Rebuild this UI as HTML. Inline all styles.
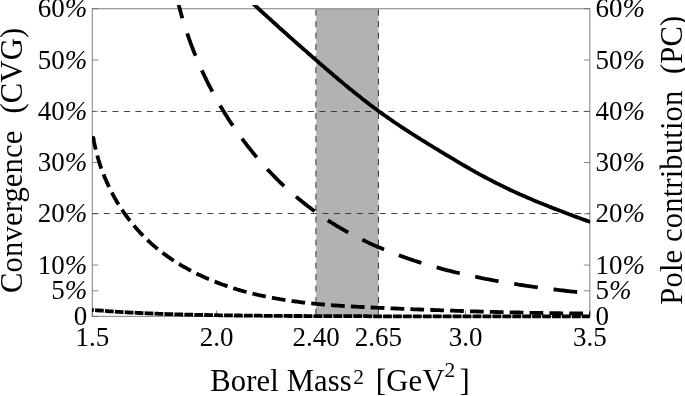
<!DOCTYPE html><html><head><meta charset="utf-8"><title>Borel plot</title><style>html,body{margin:0;padding:0;background:#fff}svg{display:block}text{font-family:"Liberation Serif",serif;fill:#000}</style></head><body>
<svg width="685" height="396" viewBox="0 0 685 396">
<rect width="685" height="396" fill="#fff"/>
<defs><clipPath id="c"><rect x="92.0" y="5" width="498.3" height="314.4"/></clipPath></defs>
<rect x="316.2" y="8.7" width="62.2" height="307.7" fill="#b2b2b2"/>
<rect x="92.3" y="8.7" width="497.5" height="307.7" fill="none" stroke="#949494" stroke-width="1.2"/>
<line x1="315.9" y1="8.7" x2="315.9" y2="316.4" stroke="#303030" stroke-width="1" stroke-dasharray="6 5.5" stroke-dashoffset="10.6"/>
<line x1="378.4" y1="8.7" x2="378.4" y2="316.4" stroke="#303030" stroke-width="1" stroke-dasharray="6 5.5" stroke-dashoffset="10.6"/>
<line x1="92.3" y1="111.5" x2="589.9" y2="111.5" stroke="#303030" stroke-width="0.9" stroke-dasharray="6 5.5" stroke-dashoffset="2.9"/>
<line x1="92.3" y1="213.5" x2="589.9" y2="213.5" stroke="#303030" stroke-width="0.9" stroke-dasharray="6 5.5" stroke-dashoffset="0"/>
<line x1="92.3" y1="316.4" x2="98.3" y2="316.4" stroke="#686868" stroke-width="0.8"/>
<line x1="583.9" y1="316.4" x2="589.9" y2="316.4" stroke="#686868" stroke-width="0.8"/>
<line x1="92.3" y1="290.8" x2="98.3" y2="290.8" stroke="#686868" stroke-width="0.8"/>
<line x1="583.9" y1="290.8" x2="589.9" y2="290.8" stroke="#686868" stroke-width="0.8"/>
<line x1="92.3" y1="265.1" x2="98.3" y2="265.1" stroke="#686868" stroke-width="0.8"/>
<line x1="583.9" y1="265.1" x2="589.9" y2="265.1" stroke="#686868" stroke-width="0.8"/>
<line x1="92.3" y1="213.8" x2="98.3" y2="213.8" stroke="#686868" stroke-width="0.8"/>
<line x1="583.9" y1="213.8" x2="589.9" y2="213.8" stroke="#686868" stroke-width="0.8"/>
<line x1="92.3" y1="162.5" x2="98.3" y2="162.5" stroke="#686868" stroke-width="0.8"/>
<line x1="583.9" y1="162.5" x2="589.9" y2="162.5" stroke="#686868" stroke-width="0.8"/>
<line x1="92.3" y1="111.3" x2="98.3" y2="111.3" stroke="#686868" stroke-width="0.8"/>
<line x1="583.9" y1="111.3" x2="589.9" y2="111.3" stroke="#686868" stroke-width="0.8"/>
<line x1="92.3" y1="60.0" x2="98.3" y2="60.0" stroke="#686868" stroke-width="0.8"/>
<line x1="583.9" y1="60.0" x2="589.9" y2="60.0" stroke="#686868" stroke-width="0.8"/>
<line x1="92.3" y1="8.7" x2="98.3" y2="8.7" stroke="#686868" stroke-width="0.8"/>
<line x1="583.9" y1="8.7" x2="589.9" y2="8.7" stroke="#686868" stroke-width="0.8"/>
<line x1="92.3" y1="316.4" x2="92.3" y2="310.4" stroke="#686868" stroke-width="0.8"/>
<line x1="216.7" y1="316.4" x2="216.7" y2="310.4" stroke="#686868" stroke-width="0.8"/>
<line x1="316.2" y1="316.4" x2="316.2" y2="310.4" stroke="#686868" stroke-width="0.8"/>
<line x1="378.4" y1="316.4" x2="378.4" y2="310.4" stroke="#686868" stroke-width="0.8"/>
<line x1="465.5" y1="316.4" x2="465.5" y2="310.4" stroke="#686868" stroke-width="0.8"/>
<line x1="589.9" y1="316.4" x2="589.9" y2="310.4" stroke="#686868" stroke-width="0.8"/>
<g clip-path="url(#c)" fill="none" stroke="#000" stroke-width="3.8">
<path d="M250.8,1.5 L252.3,2.9 L253.8,4.3 L255.3,5.7 L256.8,7.1 L258.3,8.5 L259.8,9.9 L261.3,11.3 L262.8,12.6 L264.3,14.0 L265.9,15.4 L267.4,16.8 L268.9,18.2 L270.4,19.5 L271.9,20.9 L273.4,22.3 L275.0,23.7 L276.5,25.0 L278.0,26.4 L279.5,27.8 L281.1,29.2 L282.6,30.5 L284.1,31.9 L285.7,33.3 L287.2,34.6 L288.7,36.0 L290.2,37.4 L291.8,38.7 L293.3,40.1 L294.8,41.4 L296.4,42.8 L297.9,44.2 L299.5,45.5 L301.0,46.9 L302.5,48.2 L304.1,49.6 L305.6,50.9 L307.2,52.3 L308.7,53.7 L310.3,55.0 L311.8,56.4 L313.3,57.7 L314.9,59.1 L316.4,60.4 L318.0,61.8 L319.5,63.1 L321.1,64.5 L322.6,65.8 L324.2,67.1 L325.7,68.5 L327.3,69.8 L328.9,71.2 L330.4,72.5 L332.0,73.8 L333.5,75.2 L335.1,76.5 L336.7,77.8 L338.2,79.2 L339.8,80.5 L341.4,81.8 L343.0,83.1 L344.5,84.4 L346.1,85.7 L347.7,87.0 L349.3,88.4 L350.9,89.6 L352.5,90.9 L354.1,92.2 L355.7,93.5 L357.3,94.8 L358.9,96.1 L360.5,97.3 L362.1,98.6 L363.7,99.9 L365.3,101.1 L366.9,102.4 L368.6,103.6 L370.2,104.9 L371.8,106.1 L373.5,107.3 L375.1,108.6 L376.8,109.8 L378.4,111.0 L380.1,112.2 L381.7,113.4 L383.4,114.6 L385.1,115.8 L386.8,116.9 L388.4,118.1 L390.1,119.3 L391.8,120.4 L393.5,121.6 L395.2,122.7 L396.9,123.9 L398.6,125.0 L400.3,126.2 L402.0,127.3 L403.7,128.4 L405.4,129.6 L407.2,130.7 L408.9,131.8 L410.6,132.9 L412.3,134.0 L414.1,135.1 L415.8,136.2 L417.5,137.3 L419.3,138.4 L421.0,139.5 L422.8,140.6 L424.5,141.6 L426.2,142.7 L428.0,143.8 L429.7,144.9 L431.5,145.9 L433.2,147.0 L435.0,148.1 L436.8,149.1 L438.5,150.2 L440.3,151.3 L442.0,152.3 L443.8,153.4 L445.5,154.5 L447.3,155.5 L449.1,156.6 L450.8,157.6 L452.6,158.7 L454.3,159.7 L456.1,160.8 L457.9,161.8 L459.6,162.9 L461.4,163.9 L463.2,165.0 L465.0,166.0 L466.7,167.0 L468.5,168.0 L470.3,169.1 L472.1,170.1 L473.9,171.1 L475.6,172.1 L477.4,173.1 L479.2,174.1 L481.0,175.1 L482.8,176.0 L484.6,177.0 L486.4,178.0 L488.2,178.9 L490.1,179.9 L491.9,180.8 L493.7,181.8 L495.5,182.7 L497.4,183.6 L499.2,184.5 L501.0,185.4 L502.9,186.3 L504.7,187.2 L506.6,188.1 L508.4,189.0 L510.3,189.9 L512.1,190.7 L514.0,191.6 L515.9,192.5 L517.7,193.3 L519.6,194.2 L521.5,195.0 L523.3,195.8 L525.2,196.6 L527.1,197.5 L529.0,198.3 L530.9,199.1 L532.8,199.9 L534.6,200.7 L536.5,201.5 L538.4,202.3 L540.3,203.0 L542.2,203.8 L544.1,204.6 L546.0,205.3 L548.0,206.1 L549.9,206.9 L551.8,207.6 L553.7,208.4 L555.6,209.1 L557.5,209.8 L559.4,210.6 L561.4,211.3 L563.3,212.0 L565.2,212.8 L567.1,213.5 L569.0,214.2 L571.0,214.9 L572.9,215.6 L574.8,216.4 L576.7,217.1 L578.7,217.8 L580.6,218.5 L582.5,219.2 L584.4,219.9 L586.4,220.6 L588.3,221.3 L590.2,222.0"/>
<path d="M177.8,1.1 L178.2,2.9 L178.7,4.6 L179.1,6.4 L179.6,8.2 L180.1,9.9 L180.5,11.7 L181.0,13.5 L181.5,15.2 L182.0,17.0 L182.5,18.8 L183.1,20.5 L183.6,22.3 L184.1,24.0 L184.7,25.8 L185.2,27.5 L185.8,29.3 L186.4,31.0 L187.0,32.7 L187.6,34.5 L188.2,36.2 L188.8,38.0 L189.4,39.7 L190.0,41.4 L190.6,43.1 L191.3,44.9 L191.9,46.6 L192.6,48.3 L193.2,50.0 L193.9,51.7 L194.6,53.4 L195.3,55.1 L196.0,56.8 L196.7,58.5 L197.4,60.2 L198.1,61.9 L198.8,63.6 L199.6,65.3 L200.3,67.0 L201.1,68.7 L201.8,70.3 L202.6,72.0 L203.4,73.7 L204.2,75.3 L205.0,77.0 L205.8,78.7 L206.6,80.3 L207.4,82.0 L208.2,83.6 L209.0,85.3 L209.9,86.9 L210.7,88.5 L211.6,90.2 L212.4,91.8 L213.3,93.4 L214.2,95.0 L215.1,96.6 L216.0,98.2 L216.9,99.8 L217.8,101.4 L218.7,103.0 L219.6,104.6 L220.5,106.2 L221.5,107.8 L222.4,109.4 L223.4,110.9 L224.3,112.5 L225.3,114.1 L226.3,115.6 L227.3,117.2 L228.2,118.7 L229.2,120.3 L230.2,121.8 L231.3,123.3 L232.3,124.9 L233.3,126.4 L234.3,127.9 L235.4,129.4 L236.4,130.9 L237.5,132.4 L238.5,133.9 L239.6,135.4 L240.7,136.9 L241.8,138.3 L242.9,139.8 L244.0,141.3 L245.1,142.7 L246.2,144.2 L247.3,145.6 L248.4,147.1 L249.6,148.5 L250.7,149.9 L251.9,151.4 L253.0,152.8 L254.2,154.2 L255.3,155.6 L256.5,157.0 L257.7,158.4 L258.9,159.8 L260.1,161.1 L261.3,162.5 L262.5,163.9 L263.7,165.2 L264.9,166.6 L266.2,167.9 L267.4,169.3 L268.6,170.6 L269.9,171.9 L271.2,173.2 L272.4,174.5 L273.7,175.8 L275.0,177.1 L276.2,178.4 L277.5,179.7 L278.8,181.0 L280.1,182.3 L281.4,183.5 L282.8,184.8 L284.1,186.0 L285.4,187.2 L286.8,188.5 L288.1,189.7 L289.4,190.9 L290.8,192.1 L292.2,193.3 L293.5,194.5 L294.9,195.7 L296.3,196.9 L297.7,198.0 L299.1,199.2 L300.5,200.3 L301.9,201.5 L303.3,202.6 L304.7,203.7 L306.1,204.8 L307.6,206.0 L309.0,207.1 L310.4,208.1 L311.9,209.2 L313.3,210.3 L314.8,211.4 L316.3,212.4 L317.7,213.5 L319.2,214.5 L320.7,215.5 L322.2,216.6 L323.7,217.6 L325.2,218.6 L326.7,219.6 L328.2,220.6 L329.7,221.5 L331.3,222.5 L332.8,223.5 L334.3,224.4 L335.9,225.4 L337.4,226.3 L339.0,227.2 L340.5,228.1 L342.1,229.0 L343.7,229.9 L345.3,230.8 L346.8,231.7 L348.4,232.6 L350.0,233.4 L351.6,234.3 L353.2,235.1 L354.8,236.0 L356.4,236.8 L358.1,237.6 L359.7,238.4 L361.3,239.2 L362.9,240.0 L364.6,240.8 L366.2,241.6 L367.9,242.4 L369.5,243.2 L371.2,243.9 L372.8,244.7 L374.5,245.4 L376.2,246.1 L377.8,246.9 L379.5,247.6 L381.2,248.3 L382.9,249.0 L384.6,249.7 L386.2,250.4 L387.9,251.1 L389.6,251.7 L391.3,252.4 L393.0,253.1 L394.8,253.7 L396.5,254.4 L398.2,255.0 L399.9,255.6 L401.6,256.3 L403.4,256.9 L405.1,257.5 L406.8,258.1 L408.6,258.7 L410.3,259.3 L412.0,259.9 L413.8,260.5 L415.5,261.0 L417.3,261.6 L419.0,262.1 L420.8,262.7 L422.5,263.2 L424.3,263.8 L426.1,264.3 L427.8,264.8 L429.6,265.4 L431.4,265.9 L433.2,266.4 L434.9,266.9 L436.7,267.4 L438.5,267.9 L440.3,268.4 L442.0,268.9 L443.8,269.3 L445.6,269.8 L447.4,270.3 L449.2,270.7 L451.0,271.2 L452.8,271.6 L454.6,272.1 L456.4,272.5 L458.2,272.9 L460.0,273.3 L461.8,273.8 L463.6,274.2 L465.4,274.6 L467.2,275.0 L469.0,275.4 L470.8,275.8 L472.6,276.2 L474.4,276.6 L476.2,276.9 L478.1,277.3 L479.9,277.7 L481.7,278.1 L483.5,278.4 L485.3,278.8 L487.1,279.1 L488.9,279.5 L490.8,279.8 L492.6,280.2 L494.4,280.5 L496.2,280.8 L498.0,281.2 L499.8,281.5 L501.6,281.8 L503.5,282.1 L505.3,282.4 L507.1,282.7 L508.9,283.0 L510.7,283.3 L512.5,283.6 L514.4,283.9 L516.2,284.2 L518.0,284.5 L519.8,284.8 L521.6,285.0 L523.4,285.3 L525.2,285.6 L527.1,285.9 L528.9,286.1 L530.7,286.4 L532.5,286.6 L534.3,286.9 L536.1,287.1 L537.9,287.4 L539.7,287.6 L541.5,287.9 L543.3,288.1 L545.1,288.3 L546.9,288.6 L548.7,288.8 L550.5,289.0 L552.3,289.3 L554.1,289.5 L555.9,289.7 L557.7,289.9 L559.5,290.1 L561.3,290.3 L563.0,290.5 L564.8,290.7 L566.6,291.0 L568.4,291.2 L570.2,291.4 L571.9,291.6 L573.7,291.7 L575.5,291.9 L577.2,292.1 L579.0,292.3 L580.8,292.5 L582.5,292.7 L584.3,292.9 L586.0,293.1 L587.8,293.2 L589.5,293.4" stroke-dasharray="23.8 15.9" stroke-dashoffset="6.0"/>
<path d="M92.8,134.2 L93.0,135.7 L93.2,137.1 L93.5,138.6 L93.8,140.1 L94.0,141.5 L94.3,143.0 L94.6,144.5 L94.9,145.9 L95.2,147.4 L95.6,148.8 L95.9,150.3 L96.3,151.7 L96.6,153.1 L97.0,154.6 L97.4,156.0 L97.8,157.4 L98.2,158.8 L98.6,160.3 L99.1,161.7 L99.5,163.1 L100.0,164.5 L100.4,165.9 L100.9,167.3 L101.4,168.7 L101.9,170.1 L102.4,171.4 L102.9,172.8 L103.5,174.2 L104.0,175.6 L104.6,176.9 L105.1,178.3 L105.7,179.6 L106.3,181.0 L106.9,182.3 L107.5,183.6 L108.1,185.0 L108.7,186.3 L109.3,187.6 L110.0,188.9 L110.6,190.2 L111.3,191.5 L112.0,192.8 L112.6,194.1 L113.3,195.4 L114.0,196.7 L114.7,198.0 L115.5,199.2 L116.2,200.5 L116.9,201.7 L117.7,203.0 L118.4,204.2 L119.2,205.5 L120.0,206.7 L120.8,207.9 L121.6,209.1 L122.4,210.3 L123.2,211.5 L124.0,212.7 L124.8,213.9 L125.7,215.1 L126.5,216.2 L127.4,217.4 L128.3,218.6 L129.1,219.7 L130.0,220.8 L130.9,222.0 L131.8,223.1 L132.7,224.2 L133.7,225.3 L134.6,226.4 L135.5,227.5 L136.5,228.6 L137.4,229.7 L138.4,230.7 L139.4,231.8 L140.3,232.9 L141.3,233.9 L142.3,234.9 L143.3,236.0 L144.3,237.0 L145.4,238.0 L146.4,239.0 L147.4,240.0 L148.5,240.9 L149.5,241.9 L150.6,242.9 L151.6,243.8 L152.7,244.8 L153.8,245.7 L154.9,246.6 L156.0,247.6 L157.1,248.5 L158.2,249.4 L159.3,250.3 L160.4,251.1 L161.6,252.0 L162.7,252.9 L163.8,253.7 L165.0,254.6 L166.1,255.4 L167.3,256.3 L168.5,257.1 L169.7,257.9 L170.8,258.7 L172.0,259.5 L173.2,260.3 L174.4,261.1 L175.6,261.8 L176.8,262.6 L178.1,263.4 L179.3,264.1 L180.5,264.9 L181.7,265.6 L183.0,266.3 L184.2,267.0 L185.5,267.7 L186.7,268.4 L188.0,269.1 L189.3,269.8 L190.5,270.5 L191.8,271.2 L193.1,271.8 L194.4,272.5 L195.7,273.1 L197.0,273.8 L198.3,274.4 L199.6,275.0 L200.9,275.6 L202.2,276.2 L203.5,276.8 L204.8,277.4 L206.1,278.0 L207.5,278.6 L208.8,279.2 L210.1,279.7 L211.5,280.3 L212.8,280.8 L214.1,281.4 L215.5,281.9 L216.8,282.4 L218.2,282.9 L219.6,283.4 L220.9,284.0 L222.3,284.5 L223.7,284.9 L225.0,285.4 L226.4,285.9 L227.8,286.4 L229.1,286.8 L230.5,287.3 L231.9,287.7 L233.3,288.2 L234.7,288.6 L236.1,289.0 L237.5,289.5 L238.9,289.9 L240.3,290.3 L241.6,290.7 L243.0,291.1 L244.4,291.5 L245.9,291.8 L247.3,292.2 L248.7,292.6 L250.1,292.9 L251.5,293.3 L252.9,293.7 L254.3,294.0 L255.7,294.3 L257.1,294.7 L258.5,295.0 L259.9,295.3 L261.4,295.6 L262.8,295.9 L264.2,296.2 L265.6,296.5 L267.0,296.8 L268.5,297.1 L269.9,297.4 L271.3,297.7 L272.7,297.9 L274.2,298.2 L275.6,298.4 L277.0,298.7 L278.5,298.9 L279.9,299.2 L281.3,299.4 L282.8,299.7 L284.2,299.9 L285.6,300.1 L287.1,300.3 L288.5,300.5 L289.9,300.8 L291.4,301.0 L292.8,301.2 L294.3,301.4 L295.7,301.5 L297.1,301.7 L298.6,301.9 L300.0,302.1 L301.5,302.3 L302.9,302.5 L304.4,302.6 L305.8,302.8 L307.3,302.9 L308.7,303.1 L310.2,303.3 L311.6,303.4 L313.1,303.6 L314.5,303.7 L316.0,303.8 L317.4,304.0 L318.9,304.1 L320.3,304.2 L321.8,304.4 L323.2,304.5 L324.7,304.6 L326.1,304.7 L327.6,304.9 L329.0,305.0 L330.5,305.1 L331.9,305.2 L333.4,305.3 L334.8,305.4 L336.3,305.5 L337.8,305.6 L339.2,305.7 L340.7,305.8 L342.1,305.9 L343.6,306.0 L345.0,306.1 L346.5,306.2 L347.9,306.3 L349.4,306.3 L350.9,306.4 L352.3,306.5 L353.8,306.6 L355.2,306.7 L356.7,306.7 L358.1,306.8 L359.6,306.9 L361.1,307.0 L362.5,307.0 L364.0,307.1 L365.4,307.2 L366.9,307.3 L368.3,307.3 L369.8,307.4 L371.2,307.5 L372.7,307.5 L374.2,307.6 L375.6,307.7 L377.1,307.7 L378.5,307.8 L380.0,307.9 L381.4,307.9 L382.9,308.0 L384.3,308.0 L385.8,308.1 L387.2,308.2 L388.7,308.2 L390.1,308.3 L391.6,308.4 L393.0,308.4 L394.5,308.5 L395.9,308.5 L397.4,308.6 L398.8,308.7 L400.3,308.7 L401.7,308.8 L403.2,308.9 L404.6,308.9 L406.1,309.0 L407.5,309.0 L409.0,309.1 L410.4,309.1 L411.9,309.2 L413.3,309.3 L414.8,309.3 L416.2,309.4 L417.6,309.4 L419.1,309.5 L420.5,309.5 L422.0,309.6 L423.4,309.7 L424.9,309.7 L426.3,309.8 L427.8,309.8 L429.2,309.9 L430.7,309.9 L432.1,310.0 L433.5,310.0 L435.0,310.1 L436.4,310.1 L437.9,310.2 L439.3,310.2 L440.8,310.3 L442.2,310.4 L443.7,310.4 L445.1,310.5 L446.5,310.5 L448.0,310.6 L449.4,310.6 L450.9,310.7 L452.3,310.7 L453.8,310.7 L455.2,310.8 L456.6,310.8 L458.1,310.9 L459.5,310.9 L461.0,311.0 L462.4,311.0 L463.9,311.1 L465.3,311.1 L466.7,311.2 L468.2,311.2 L469.6,311.3 L471.1,311.3 L472.5,311.3 L474.0,311.4 L475.4,311.4 L476.9,311.5 L478.3,311.5 L479.7,311.6 L481.2,311.6 L482.6,311.6 L484.1,311.7 L485.5,311.7 L487.0,311.8 L488.4,311.8 L489.8,311.8 L491.3,311.9 L492.7,311.9 L494.2,311.9 L495.6,312.0 L497.1,312.0 L498.5,312.1 L500.0,312.1 L501.4,312.1 L502.9,312.2 L504.3,312.2 L505.7,312.2 L507.2,312.3 L508.6,312.3 L510.1,312.3 L511.5,312.4 L513.0,312.4 L514.4,312.4 L515.9,312.5 L517.3,312.5 L518.8,312.5 L520.2,312.6 L521.7,312.6 L523.1,312.6 L524.6,312.7 L526.0,312.7 L527.5,312.7 L528.9,312.7 L530.4,312.8 L531.8,312.8 L533.3,312.8 L534.7,312.8 L536.2,312.9 L537.6,312.9 L539.1,312.9 L540.5,312.9 L542.0,313.0 L543.4,313.0 L544.9,313.0 L546.3,313.0 L547.8,313.1 L549.2,313.1 L550.7,313.1 L552.2,313.1 L553.6,313.2 L555.1,313.2 L556.5,313.2 L558.0,313.2 L559.4,313.2 L560.9,313.3 L562.4,313.3 L563.8,313.3 L565.3,313.3 L566.7,313.3 L568.2,313.3 L569.6,313.4 L571.1,313.4 L572.6,313.4 L574.0,313.4 L575.5,313.4 L577.0,313.4 L578.4,313.4 L579.9,313.5 L581.3,313.5 L582.8,313.5 L584.3,313.5 L585.7,313.5 L587.2,313.5 L588.7,313.5 L590.1,313.5" stroke-dasharray="13.75 6.13" stroke-dashoffset="-2.0"/>
<path d="M92.1,309.9 L94.6,310.1 L97.1,310.3 L99.6,310.5 L102.1,310.7 L104.6,310.9 L107.1,311.1 L109.6,311.3 L112.1,311.4 L114.6,311.6 L117.1,311.8 L119.6,311.9 L122.1,312.1 L124.6,312.2 L127.1,312.3 L129.6,312.5 L132.1,312.6 L134.6,312.7 L137.1,312.9 L139.6,313.0 L142.1,313.1 L144.6,313.2 L147.1,313.3 L149.6,313.4 L152.1,313.5 L154.6,313.6 L157.1,313.7 L159.6,313.8 L162.1,313.9 L164.6,314.0 L167.1,314.1 L169.6,314.1 L172.1,314.2 L174.6,314.3 L177.1,314.4 L179.6,314.4 L182.1,314.5 L184.6,314.6 L187.1,314.6 L189.6,314.7 L192.1,314.7 L194.6,314.8 L197.1,314.8 L199.6,314.9 L202.1,314.9 L204.6,315.0 L207.1,315.0 L209.6,315.1 L212.1,315.1 L214.6,315.2 L217.1,315.2 L219.6,315.3 L222.1,315.3 L224.6,315.3 L227.1,315.4 L229.6,315.4 L232.1,315.4 L234.7,315.5 L237.2,315.5 L239.7,315.5 L242.2,315.6 L244.7,315.6 L247.2,315.6 L249.7,315.6 L252.2,315.7 L254.7,315.7 L257.2,315.7 L259.7,315.7 L262.2,315.8 L264.7,315.8 L267.2,315.8 L269.7,315.8 L272.2,315.8 L274.7,315.9 L277.2,315.9 L279.7,315.9 L282.2,315.9 L284.7,315.9 L287.2,315.9 L289.7,316.0 L292.2,316.0 L294.7,316.0 L297.2,316.0 L299.7,316.0 L302.2,316.0 L304.7,316.0 L307.2,316.1 L309.7,316.1 L312.2,316.1 L314.7,316.1 L317.2,316.1 L319.7,316.1 L322.2,316.1 L324.7,316.1 L327.2,316.1 L329.7,316.1 L332.2,316.2 L334.7,316.2 L337.2,316.2 L339.7,316.2 L342.2,316.2 L344.7,316.2 L347.2,316.2 L349.7,316.2 L352.2,316.2 L354.7,316.2 L357.2,316.2 L359.7,316.2 L362.2,316.2 L364.7,316.2 L367.2,316.2 L369.7,316.3 L372.2,316.3 L374.7,316.3 L377.3,316.3 L379.8,316.3 L382.3,316.3 L384.8,316.3 L387.3,316.3 L389.8,316.3 L392.3,316.3 L394.8,316.3 L397.3,316.3 L399.8,316.3 L402.3,316.3 L404.8,316.3 L407.3,316.3 L409.8,316.3 L412.3,316.3 L414.8,316.3 L417.3,316.3 L419.8,316.3 L422.3,316.3 L424.8,316.3 L427.3,316.3 L429.8,316.3 L432.3,316.3 L434.8,316.3 L437.3,316.3 L439.8,316.3 L442.3,316.3 L444.8,316.3 L447.3,316.3 L449.8,316.4 L452.3,316.4 L454.8,316.4 L457.3,316.4 L459.8,316.4 L462.3,316.4 L464.8,316.4 L467.3,316.4 L469.8,316.4 L472.3,316.4 L474.8,316.4 L477.3,316.4 L479.8,316.4 L482.3,316.4 L484.8,316.4 L487.3,316.4 L489.8,316.4 L492.3,316.4 L494.8,316.4 L497.3,316.4 L499.8,316.4 L502.3,316.4 L504.8,316.4 L507.3,316.4 L509.8,316.4 L512.3,316.4 L514.8,316.4 L517.3,316.4 L519.9,316.4 L522.4,316.4 L524.9,316.4 L527.4,316.4 L529.9,316.4 L532.4,316.4 L534.9,316.4 L537.4,316.4 L539.9,316.4 L542.4,316.4 L544.9,316.4 L547.4,316.4 L549.9,316.4 L552.4,316.4 L554.9,316.4 L557.4,316.4 L559.9,316.4 L562.4,316.4 L564.9,316.4 L567.4,316.4 L569.9,316.4 L572.4,316.4 L574.9,316.4 L577.4,316.4 L579.9,316.4 L582.4,316.4 L584.9,316.4 L587.4,316.4 L589.9,316.4" stroke-dasharray="8.74 1.2" stroke-dashoffset="7.0"/>
</g>
<text x="87.3" y="17.3" font-size="27" text-anchor="end">60<tspan font-style="italic">%</tspan></text>
<text x="595.4" y="17.3" font-size="27">60<tspan font-style="italic">%</tspan></text>
<text x="87.3" y="68.6" font-size="27" text-anchor="end">50<tspan font-style="italic">%</tspan></text>
<text x="595.4" y="68.6" font-size="27">50<tspan font-style="italic">%</tspan></text>
<text x="87.3" y="119.9" font-size="27" text-anchor="end">40<tspan font-style="italic">%</tspan></text>
<text x="595.4" y="119.9" font-size="27">40<tspan font-style="italic">%</tspan></text>
<text x="87.3" y="171.1" font-size="27" text-anchor="end">30<tspan font-style="italic">%</tspan></text>
<text x="595.4" y="171.1" font-size="27">30<tspan font-style="italic">%</tspan></text>
<text x="87.3" y="222.4" font-size="27" text-anchor="end">20<tspan font-style="italic">%</tspan></text>
<text x="595.4" y="222.4" font-size="27">20<tspan font-style="italic">%</tspan></text>
<text x="87.3" y="273.7" font-size="27" text-anchor="end">10<tspan font-style="italic">%</tspan></text>
<text x="595.4" y="273.7" font-size="27">10<tspan font-style="italic">%</tspan></text>
<text x="87.3" y="299.4" font-size="27" text-anchor="end">5<tspan font-style="italic">%</tspan></text>
<text x="595.4" y="299.4" font-size="27">5<tspan font-style="italic">%</tspan></text>
<text x="87.3" y="325.0" font-size="27" text-anchor="end">0</text>
<text x="595.4" y="325.0" font-size="27">0</text>
<text x="92.3" y="345.6" font-size="27" text-anchor="middle">1.5</text>
<text x="216.7" y="345.6" font-size="27" text-anchor="middle">2.0</text>
<text x="316.2" y="345.6" font-size="27" text-anchor="middle">2.40</text>
<text x="378.4" y="345.6" font-size="27" text-anchor="middle">2.65</text>
<text x="465.5" y="345.6" font-size="27" text-anchor="middle">3.0</text>
<text x="589.9" y="345.6" font-size="27" text-anchor="middle">3.5</text>
<text x="210.3" y="390.8" font-size="30.6" letter-spacing="0.12">Borel Mass</text>
<text x="353.3" y="383.7" font-size="21.5">2</text>
<text x="375.7" y="390.8" font-size="30.6" letter-spacing="0.3">[GeV</text>
<text x="444.6" y="376.8" font-size="21.5">2</text>
<text x="459.5" y="390.8" font-size="30.6">]</text>
<text transform="translate(21.7,293) rotate(-90)" font-size="30.6" letter-spacing="0.15">Convergence</text>
<text transform="translate(21.7,113.5) rotate(-90)" font-size="30.6" letter-spacing="0.15">(CVG)</text>
<text transform="translate(681.8,304.7) rotate(-90)" font-size="30.6" letter-spacing="0.15">Pole contribution</text>
<text transform="translate(681.8,74) rotate(-90)" font-size="30.6" letter-spacing="0.15">(PC)</text>
</svg></body></html>
